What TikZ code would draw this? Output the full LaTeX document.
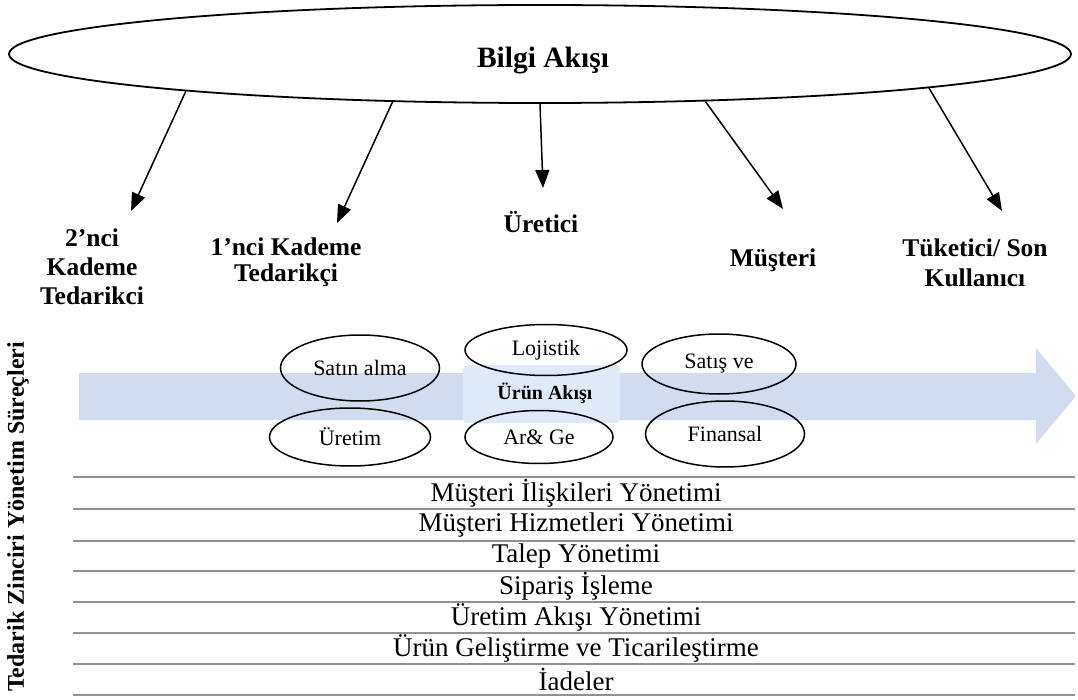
\documentclass[tikz,border=0pt]{standalone}
\usepackage{fontspec}
\setmainfont{Liberation Serif}
\usetikzlibrary{shapes.geometric,arrows.meta}
\definecolor{flowblue}{RGB}{209,221,238}
\definecolor{flowlight}{RGB}{222,234,247}
\definecolor{rulegray}{RGB}{145,145,145}
\begin{document}
\begin{tikzpicture}[x=1pt,y=-1pt,
  bigell/.style={ellipse, draw, line width=1.8pt, minimum width=1062pt, minimum height=98pt, inner sep=0pt},
  smell/.style={ellipse, draw, line width=1.5pt, inner sep=0pt, font=\fontsize{22}{24}\selectfont},
  lbl/.style={font=\bfseries\fontsize{25.5}{29}\selectfont, align=center, inner sep=0pt},
  infoarr/.style={line width=1.5pt, -{Triangle[length=18pt,width=14pt]}},
  rowtxt/.style={font=\fontsize{27}{29}\selectfont, inner sep=0pt},
  rowline/.style={draw=rulegray, line width=2.4pt}
]
\useasboundingbox (0,0) rectangle (1078,700);

% information flow ellipse
\node[bigell] (bilgi) at (540,54) {};
\node[font=\bfseries\fontsize{29.5}{32}\selectfont, inner sep=0pt] (bilgit) at (543,61) {Bilgi Akışı};

% actor labels
\node[lbl] (l1) at (92,267) {2’nci\\Kademe\\Tedarikci};
\node[lbl, font=\bfseries\fontsize{25.5}{26}\selectfont] (l2) at (286,262) {1’nci Kademe\\Tedarikçi};
\node[lbl] (l3) at (541,222) {Üretici};
\node[lbl] (l4) at (773,260) {Müşteri};
\node[lbl, font=\bfseries\fontsize{25.5}{30}\selectfont] (l5) at (975,263) {Tüketici/ Son\\Kullanıcı};

% arrow end points
\coordinate (e1) at (131,211);
\coordinate (e2) at (337,223);
\coordinate (e3) at (543,188);
\coordinate (e4) at (783,209);
\coordinate (e5) at (1002,211);

\draw[infoarr] (bilgi.186) -- (e1);
\draw[infoarr] (bilgi.198.3) -- (e2);
\draw[infoarr] (bilgi.270) -- (e3);
\draw[infoarr] (bilgi.344.7) -- (e4);
\draw[infoarr] (bilgi.355.1) -- (e5);

% product flow arrow
\fill[flowblue] (79,373) -- (1036,373) -- (1036,348) -- (1076,396) -- (1036,444) -- (1036,420) -- (79,420) -- cycle;
\fill[flowlight, rounded corners=4pt] (463,365) rectangle (620,423);
\node[font=\bfseries\fontsize{20}{22}\selectfont, inner sep=0pt] (urun) at (545,393) {Ürün Akışı};

% process ellipses
\node[smell, minimum width=159pt, minimum height=66pt] (satin) at (360,368) {Satın alma};
\node[smell, minimum width=161pt, minimum height=58pt] (uretim) at (350,437) {Üretim};
\node[smell, minimum width=162pt, minimum height=51pt] (loj) at (546,350) {Lojistik};
\node[smell, minimum width=148pt, minimum height=53pt] (arge) at (539,437) {Ar\& Ge};
\node[smell, minimum width=154pt, minimum height=60pt] (satis) at (719,364) {Satış ve};
\node[smell, minimum width=159pt, minimum height=66pt] (fin) at (725,434) {Finansal};

% vertical title
\node[rotate=90, font=\bfseries\fontsize{24}{26}\selectfont, inner sep=0pt] (vert) at (18,517) {Tedarik Zinciri Yönetim Süreçleri};

% process rows
\foreach \y in {477,509,541,571,602,633,664,695} {
  \draw[rowline] (73,\y) -- (1075,\y);
}
\node[rowtxt] (r1) at (576,493) {Müşteri İlişkileri Yönetimi};
\node[rowtxt] (r2) at (576,525) {Müşteri Hizmetleri Yönetimi};
\node[rowtxt] (r3) at (576,556) {Talep Yönetimi};
\node[rowtxt] (r4) at (576,586.5) {Sipariş İşleme};
\node[rowtxt] (r5) at (576,617.5) {Üretim Akışı Yönetimi};
\node[rowtxt] (r6) at (576,648.5) {Ürün Geliştirme ve Ticarileştirme};
\node[rowtxt] (r7) at (576,679.5) {İadeler};
\end{tikzpicture}
\end{document}
